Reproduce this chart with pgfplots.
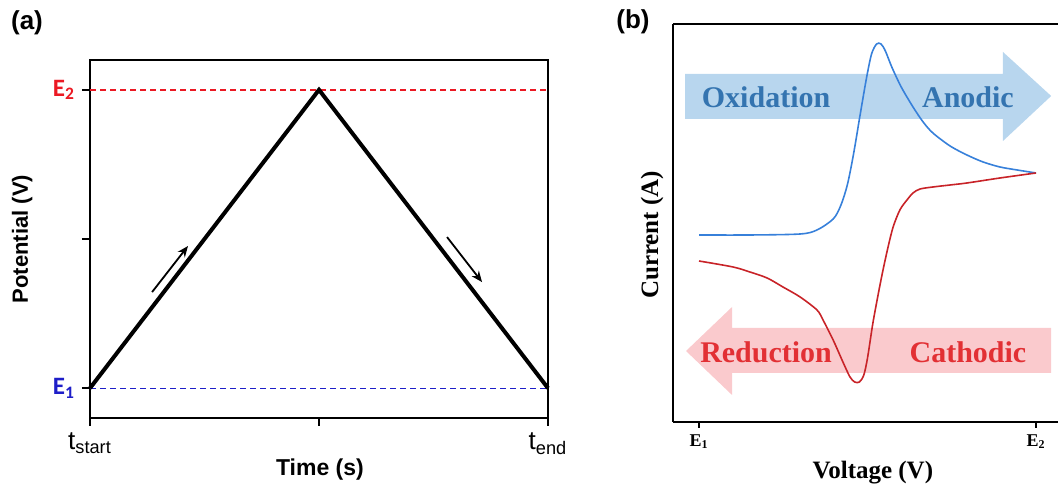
\documentclass[border=0pt]{standalone}
\usepackage{pgfplots}
\pgfplotsset{compat=1.18}
\usepackage{fontspec}
\setmainfont{Liberation Sans}
\newfontfamily\timesf{Liberation Serif}
\newfontfamily\carlito{Carlito}
\usetikzlibrary{arrows.meta}
\definecolor{dashred}{RGB}{235,25,35}
\definecolor{dashblue}{RGB}{30,30,200}
\definecolor{cvblue}{RGB}{55,128,218}
\definecolor{cvred}{RGB}{200,35,40}
\definecolor{arrblue}{RGB}{184,214,238}
\definecolor{txtblue}{RGB}{52,116,176}
\definecolor{arrpink}{RGB}{250,202,205}
\definecolor{txtred}{RGB}{226,48,52}
\begin{document}
\begin{tikzpicture}
% ---------------- panel (a) ----------------
\begin{axis}[
  at={(45pt,36pt)}, anchor=south west,
  width=229pt, height=179pt, scale only axis,
  xmin=0, xmax=2, ymin=0.8, ymax=3.2,
  clip=false,
  axis line style={line width=0.8pt},
  tick pos=left, tick align=outside,
  major tick length=4pt,
  tick style={line width=0.8pt, black},
  xtick={0,1,2},
  xticklabels={t\textsubscript{start},,t\textsubscript{end}},
  ytick={1,2,3},
  yticklabels={\textcolor{dashblue}{E\textsubscript{1}},,\textcolor{dashred}{E\textsubscript{2}}},
  xticklabel style={font=\fontsize{13}{13}\selectfont},
  yticklabel style={font=\carlito\bfseries\fontsize{12.5}{12.5}\selectfont},
  xlabel={Time (s)},
  ylabel={Potential (V)},
  xlabel style={at={(axis description cs:0.502,-0.145)}, anchor=center, font=\bfseries\fontsize{11.5}{11.5}\selectfont},
  ylabel style={at={(axis description cs:-0.148,0.5)}, anchor=center, rotate=0, font=\bfseries\fontsize{11}{11}\selectfont},
]
\addplot[draw=dashblue, line width=0.6pt, dash pattern=on 3pt off 2pt] coordinates {(0,1) (2,1)};
\addplot[draw=dashred, line width=0.9pt, dash pattern=on 3pt off 2pt] coordinates {(0,3) (2,3)};
\addplot[color=black, line width=2pt] coordinates {(0,1) (1,3) (2,1)};
\addplot[color=black, line width=0.9pt, -{Stealth[length=5.5pt,width=4.5pt]}] coordinates {(0.271,1.644) (0.428,1.953)};
\addplot[color=black, line width=0.9pt, -{Stealth[length=5.5pt,width=4.5pt]}] coordinates {(1.559,2.013) (1.712,1.711)};
\end{axis}
% ---------------- panel (b) ----------------
\begin{axis}[
  at={(336.5pt,34pt)}, anchor=south west,
  width=192.5pt, height=199pt, scale only axis,
  xmin=-0.0772, xmax=1.0653, ymin=0, ymax=398,
  axis lines=left,
  axis line style={-, line width=1pt},
  tick align=outside,
  major tick length=3pt,
  tick style={line width=0.8pt, black},
  xtick={0,1},
  xticklabels={E\textsubscript{1},E\textsubscript{2}},
  ytick=\empty,
  xticklabel style={font=\timesf\bfseries\fontsize{9}{9}\selectfont},
  xlabel={Voltage (V)},
  ylabel={Current (A)},
  xlabel style={at={(axis description cs:0.519,-0.126)}, anchor=center, font=\timesf\bfseries\fontsize{12.5}{12.5}\selectfont},
  ylabel style={at={(axis description cs:-0.0545,0.47)}, anchor=center, rotate=0, font=\timesf\bfseries\fontsize{12.5}{12.5}\selectfont},
  clip=false,
]
\draw[line width=1pt] (rel axis cs:0,1) -- (rel axis cs:1,1);
% big arrows
\fill[arrblue] (axis cs:-0.0415,348) -- (axis cs:0.902,348) -- (axis cs:0.902,370) -- (axis cs:1.045,326) -- (axis cs:0.902,281) -- (axis cs:0.902,303) -- (axis cs:-0.0415,303) -- cycle;
\fill[arrpink] (axis cs:1.045,94) -- (axis cs:0.098,94) -- (axis cs:0.098,115) -- (axis cs:-0.0386,71) -- (axis cs:0.098,27) -- (axis cs:0.098,49) -- (axis cs:1.045,49) -- cycle;
\node[text=txtblue, font=\timesf\bfseries\fontsize{15}{15}\selectfont] at (axis cs:0.199,325) {Oxidation};
\node[text=txtblue, font=\timesf\bfseries\fontsize{15}{15}\selectfont] at (axis cs:0.798,325) {Anodic};
\node[text=txtred, font=\timesf\bfseries\fontsize{15}{15}\selectfont] at (axis cs:0.199,70) {Reduction};
\node[text=txtred, font=\timesf\bfseries\fontsize{15}{15}\selectfont] at (axis cs:0.798,70) {Cathodic};
% forward scan
\addplot[color=cvblue, line width=0.8pt, smooth, tension=0.5] coordinates {
(0,187) (0.150,187) (0.300,188) (0.350,192) (0.398,203) (0.420,216) (0.440,237)
(0.458,267) (0.478,307) (0.497,344) (0.512,368) (0.527,378) (0.540,378) (0.553,371)
(0.572,355) (0.600,335) (0.635,315) (0.665,300) (0.694,289) (0.745,276)
(0.795,267) (0.843,260) (0.893,255) (0.944,252) (1.000,249)};
% reverse scan
\addplot[color=cvred, line width=0.8pt, smooth, tension=0.5] coordinates {
(1.000,249) (0.893,244) (0.795,239) (0.745,237) (0.694,235) (0.656,233)
(0.635,229) (0.617,222) (0.596,212) (0.576,195) (0.561,175) (0.546,152)
(0.533,130) (0.516,99) (0.500,64) (0.489,47) (0.476,40) (0.462,40) (0.448,45)
(0.427,60) (0.398,82) (0.368,102) (0.350,112) (0.300,125) (0.249,135)
(0.202,144) (0.151,150) (0.101,155) (0,161)};
\end{axis}
% panel letters
\node[font=\bfseries\fontsize{13}{13}\selectfont] at (13.5pt,233.5pt) {(a)};
\node[font=\bfseries\fontsize{13}{13}\selectfont] at (316.5pt,234pt) {(b)};
\pgfresetboundingbox
\path[use as bounding box] (0,0) rectangle (529pt,245pt);
\end{tikzpicture}
\end{document}
